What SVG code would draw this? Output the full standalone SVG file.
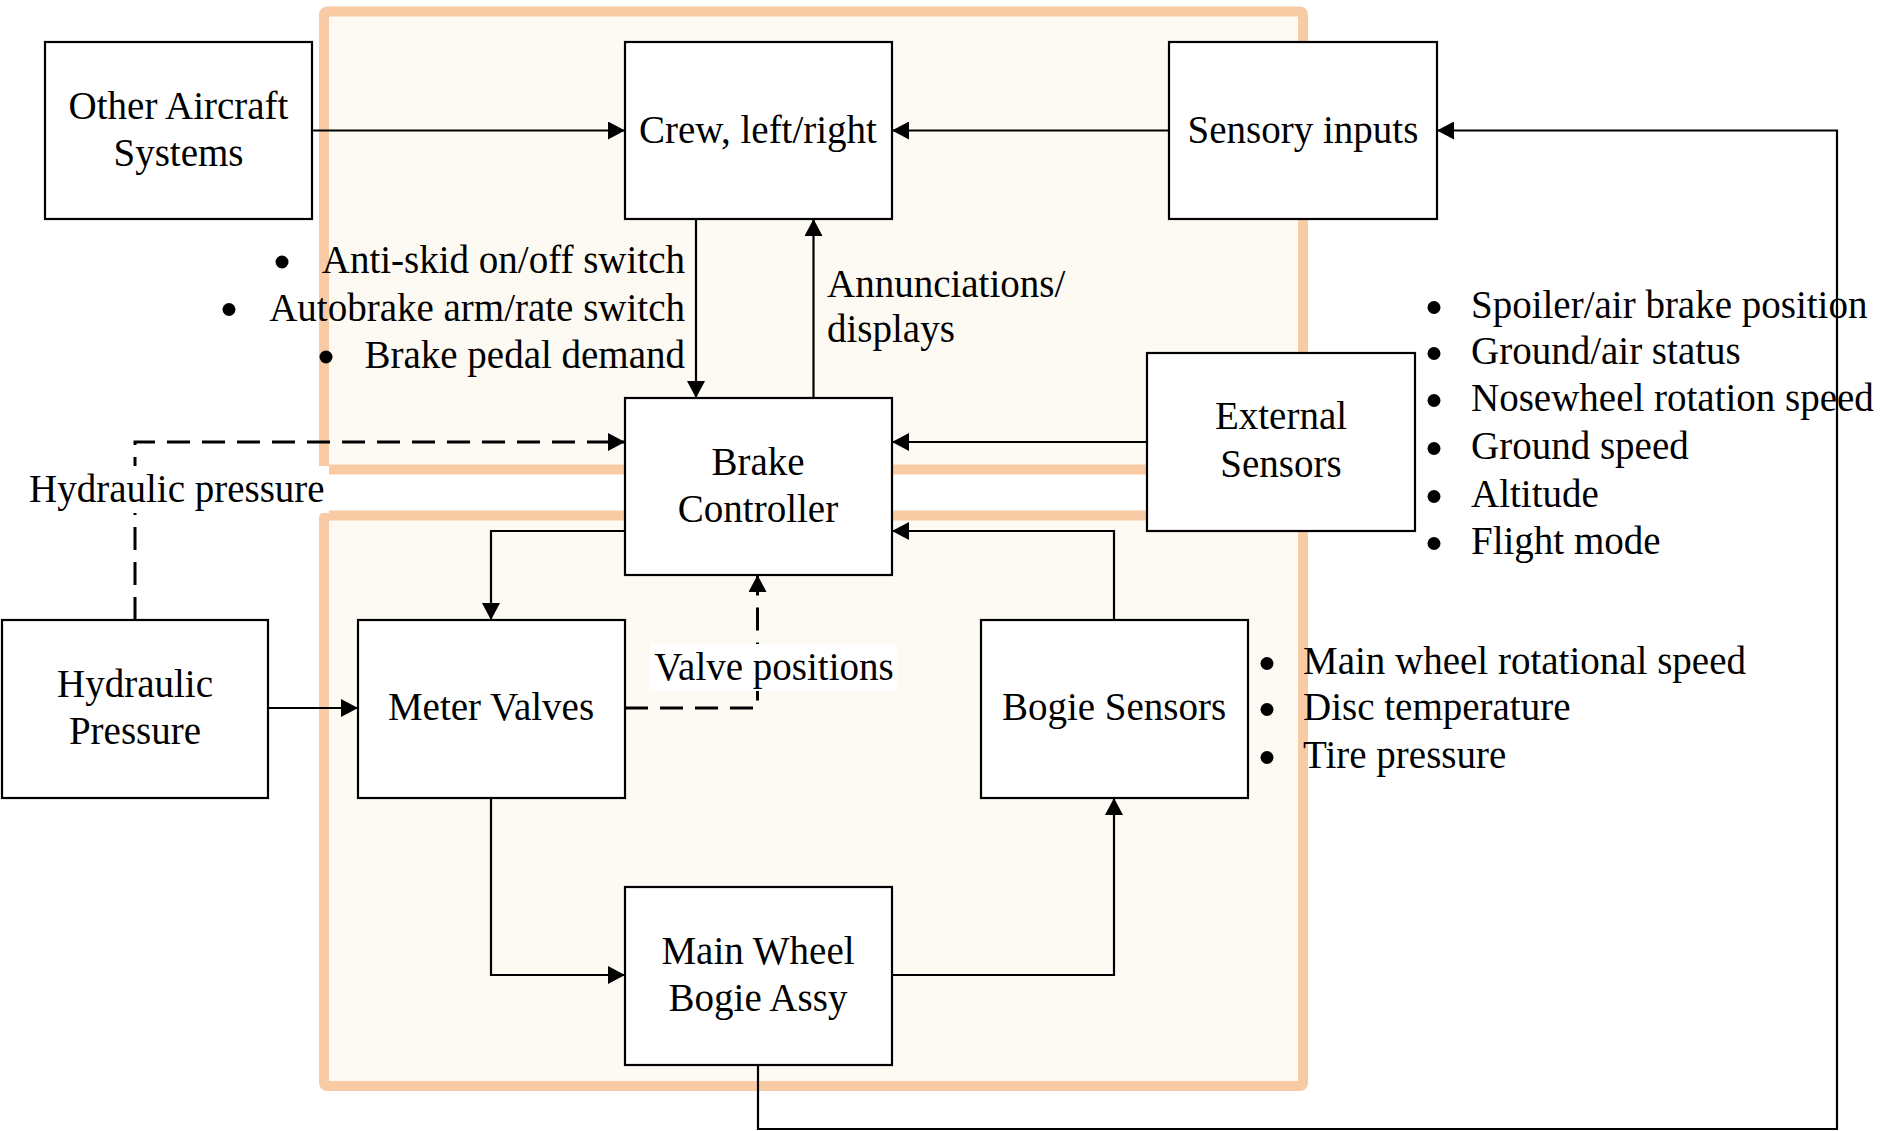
<svg xmlns="http://www.w3.org/2000/svg" width="1885" height="1131" viewBox="0 0 1885 1131">
  <style>
    .zone { fill: #FDF9F3; stroke: #F9CBA5; stroke-width: 10; }
    .box { fill: #FFFFFF; stroke: #000000; stroke-width: 2.2; }
    .wire { fill: none; stroke: #000000; stroke-width: 2.2; }
    .dash { stroke-width: 3; stroke-dasharray: 23 12; }
    text { font-family: "Liberation Serif", "Times New Roman", serif; font-size: 39px; fill: #000000; }
    .c { text-anchor: middle; }
    .e { text-anchor: end; }
    .dot { fill: #000000; }
    .bg { fill: #FFFFFF; }
  </style>
  <defs>
    <marker id="arrow" markerUnits="userSpaceOnUse" markerWidth="17" markerHeight="18" refX="17" refY="9" orient="auto">
      <path d="M0,0 L17,9 L0,18 Z" fill="#000000"/>
    </marker>
  </defs>

  <rect width="1885" height="1131" fill="#FFFFFF"/>

  <!-- shaded zones -->
  <g id="zones">
    <rect class="zone" x="324" y="11.5" width="979" height="458" rx="3"/>
    <rect class="zone" x="324" y="515.5" width="979" height="570.5" rx="3"/>
  </g>

  <!-- connectors -->
  <g id="connectors">
    <path class="wire" d="M312,130.5 H625" marker-end="url(#arrow)"/>
    <path class="wire" d="M1169,130.5 H892" marker-end="url(#arrow)"/>
    <path class="wire" d="M696,219 V398" marker-end="url(#arrow)"/>
    <path class="wire" d="M813.5,398 V219" marker-end="url(#arrow)"/>
    <path class="wire dash" d="M135,620 V442 H625" marker-end="url(#arrow)"/>
    <path class="wire" d="M1147,442 H892" marker-end="url(#arrow)"/>
    <path class="wire" d="M1114,620 V531 H892" marker-end="url(#arrow)"/>
    <path class="wire" d="M625,531 H491 V620" marker-end="url(#arrow)"/>
    <path class="wire dash" d="M625,708 H757.5 V575" marker-end="url(#arrow)"/>
    <path class="wire" d="M268,708 H358" marker-end="url(#arrow)"/>
    <path class="wire" d="M491,798 V975 H625" marker-end="url(#arrow)"/>
    <path class="wire" d="M892,975 H1114 V798" marker-end="url(#arrow)"/>
    <path class="wire" d="M758,1065 V1129 H1837 V130.5 H1437" marker-end="url(#arrow)"/>
  </g>

  <!-- nodes -->
  <g id="other-aircraft-systems">
    <rect class="box" x="45" y="42" width="267" height="177"/>
    <text class="c" x="178.5" y="119">Other Aircraft</text>
    <text class="c" x="178.5" y="166">Systems</text>
  </g>
  <g id="crew">
    <rect class="box" x="625" y="42" width="267" height="177"/>
    <text class="c" x="758" y="142.5">Crew, left/right</text>
  </g>
  <g id="sensory-inputs">
    <rect class="box" x="1169" y="42" width="268" height="177"/>
    <text class="c" x="1303" y="142.5">Sensory inputs</text>
  </g>
  <g id="brake-controller">
    <rect class="box" x="625" y="398" width="267" height="177"/>
    <text class="c" x="758" y="475">Brake</text>
    <text class="c" x="758" y="522">Controller</text>
  </g>
  <g id="external-sensors">
    <rect class="box" x="1147" y="353" width="268" height="178"/>
    <text class="c" x="1281" y="429">External</text>
    <text class="c" x="1281" y="477">Sensors</text>
  </g>
  <g id="hydraulic-pressure">
    <rect class="box" x="2" y="620" width="266" height="178"/>
    <text class="c" x="135" y="697">Hydraulic</text>
    <text class="c" x="135" y="744">Pressure</text>
  </g>
  <g id="meter-valves">
    <rect class="box" x="358" y="620" width="267" height="178"/>
    <text class="c" x="491" y="720">Meter Valves</text>
  </g>
  <g id="bogie-sensors">
    <rect class="box" x="981" y="620" width="267" height="178"/>
    <text class="c" x="1114" y="720">Bogie Sensors</text>
  </g>
  <g id="main-wheel-bogie-assy">
    <rect class="box" x="625" y="887" width="267" height="178"/>
    <text class="c" x="758" y="964">Main Wheel</text>
    <text class="c" x="758" y="1011">Bogie Assy</text>
  </g>

  <!-- connector labels -->
  <g id="labels">
    <rect class="bg" x="26" y="466" width="303" height="47"/>
    <text x="29" y="502">Hydraulic pressure</text>

    <rect class="bg" x="650" y="644" width="247" height="47"/>
    <text class="c" x="774" y="680">Valve positions</text>

    <text x="827" y="297">Annunciations/</text>
    <text x="827" y="342">displays</text>

    <circle class="dot" cx="282" cy="262" r="6.5"/>
    <text class="e" x="685" y="273">Anti-skid on/off switch</text>
    <circle class="dot" cx="229" cy="309.5" r="6.5"/>
    <text class="e" x="685" y="320.5">Autobrake arm/rate switch</text>
    <circle class="dot" cx="326" cy="357" r="6.5"/>
    <text class="e" x="685" y="368">Brake pedal demand</text>

    <circle class="dot" cx="1434" cy="307.5" r="6.5"/>
    <text x="1471" y="318">Spoiler/air brake position</text>
    <circle class="dot" cx="1434" cy="353.5" r="6.5"/>
    <text x="1471" y="364">Ground/air status</text>
    <circle class="dot" cx="1434" cy="400.5" r="6.5"/>
    <text x="1471" y="411">Nosewheel rotation speed</text>
    <circle class="dot" cx="1434" cy="448.5" r="6.5"/>
    <text x="1471" y="459">Ground speed</text>
    <circle class="dot" cx="1434" cy="496.5" r="6.5"/>
    <text x="1471" y="507">Altitude</text>
    <circle class="dot" cx="1434" cy="543.5" r="6.5"/>
    <text x="1471" y="554">Flight mode</text>

    <circle class="dot" cx="1267" cy="663.5" r="6.5"/>
    <text x="1303" y="674">Main wheel rotational speed</text>
    <circle class="dot" cx="1267" cy="709.5" r="6.5"/>
    <text x="1303" y="720">Disc temperature</text>
    <circle class="dot" cx="1267" cy="757.5" r="6.5"/>
    <text x="1303" y="768">Tire pressure</text>
  </g>
</svg>
